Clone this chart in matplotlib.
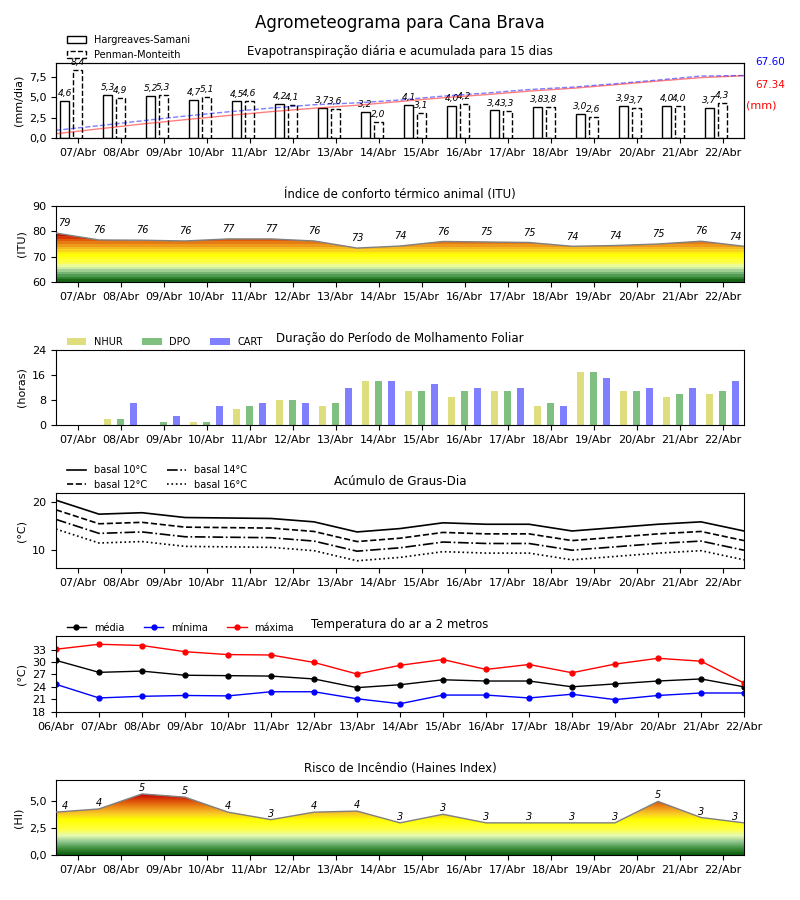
import numpy as np
import matplotlib
matplotlib.use('Agg')
import matplotlib.pyplot as plt
from matplotlib.colors import LinearSegmentedColormap
from matplotlib.patches import Polygon
from matplotlib.ticker import FuncFormatter

# ---------------- data ----------------
dates16 = ['07/Abr', '08/Abr', '09/Abr', '10/Abr', '11/Abr', '12/Abr', '13/Abr', '14/Abr',
           '15/Abr', '16/Abr', '17/Abr', '18/Abr', '19/Abr', '20/Abr', '21/Abr', '22/Abr']
dates17 = ['06/Abr'] + dates16

et_hs = [4.6, 5.3, 5.2, 4.7, 4.5, 4.2, 3.7, 3.2, 4.1, 4.0, 3.4, 3.8, 3.0, 3.9, 4.0, 3.7]
et_pm = [8.4, 4.9, 5.3, 5.1, 4.6, 4.1, 3.6, 2.0, 3.1, 4.2, 3.3, 3.8, 2.6, 3.7, 4.0, 4.3]
et_hs_acum = [4.6, 9.9, 15.1, 19.8, 24.3, 28.5, 32.2, 35.4, 39.5, 43.5, 46.9, 50.7, 53.7,
              57.6, 61.6, 65.3, 67.34]
et_pm_acum = [8.4, 13.3, 18.6, 23.7, 28.3, 32.4, 36.0, 38.0, 41.1, 45.3, 48.6, 52.4, 55.0,
              58.7, 62.7, 67.0, 67.60]
et_hs_total = '67.34'
et_pm_total = '67.60'

itu = [79.3, 76.6, 76.5, 76.2, 77.0, 77.0, 76.2, 73.4, 74.2, 76.0, 75.8, 75.6, 74.1, 74.4,
       75.0, 76.1, 74.1]
itu_labels = [79, 76, 76, 76, 77, 77, 76, 73, 74, 76, 75, 75, 74, 74, 75, 76, 74]

nhur = [0, 2, 0, 1, 5, 8, 6, 14, 11, 9, 11, 6, 17, 11, 9, 10]
dpo = [0, 2, 1, 1, 6, 8, 7, 14, 11, 11, 11, 7, 17, 11, 10, 11]
cart = [0, 7, 3, 6, 7, 7, 12, 14, 13, 12, 12, 6, 15, 12, 12, 14]

gd10 = [20.4, 17.5, 17.8, 16.8, 16.7, 16.6, 15.9, 13.8, 14.5, 15.7, 15.4, 15.4, 14.0, 14.7,
        15.4, 15.9, 14.0]
gd12 = [18.4, 15.5, 15.8, 14.8, 14.7, 14.6, 13.9, 11.8, 12.5, 13.7, 13.4, 13.4, 12.0, 12.7,
        13.4, 13.9, 12.0]
gd14 = [16.4, 13.5, 13.8, 12.8, 12.7, 12.6, 11.9, 9.8, 10.5, 11.7, 11.4, 11.4, 10.0, 10.7,
        11.4, 11.9, 10.0]
gd16 = [14.4, 11.5, 11.8, 10.8, 10.7, 10.6, 9.9, 7.8, 8.5, 9.7, 9.4, 9.4, 8.0, 8.7,
        9.4, 9.9, 8.0]

t_med = [30.4, 27.5, 27.8, 26.8, 26.7, 26.6, 25.9, 23.8, 24.5, 25.7, 25.4, 25.4, 24.0, 24.7,
         25.4, 25.9, 24.0]
t_min = [24.6, 21.3, 21.7, 21.9, 21.8, 22.8, 22.8, 21.1, 19.9, 22.0, 22.0, 21.3, 22.2, 20.9,
         21.9, 22.5, 22.5]
t_max = [33.1, 34.3, 34.0, 32.5, 31.8, 31.7, 29.9, 27.1, 29.2, 30.6, 28.2, 29.4, 27.4, 29.5,
         30.9, 30.2, 24.9]

haines = [4.0, 4.3, 5.7, 5.4, 4.0, 3.3, 4.0, 4.1, 3.0, 3.8, 3.0, 3.0, 3.0, 3.0, 5.0, 3.5, 3.0]
haines_labels = [4, 4, 5, 5, 4, 3, 4, 4, 3, 3, 3, 3, 3, 3, 5, 3, 3]

# ---------------- style ----------------
plt.rcParams['font.family'] = ['DejaVu Sans']
plt.rcParams['xtick.labelsize'] = 8
plt.rcParams['ytick.labelsize'] = 8
plt.rcParams['axes.labelsize'] = 8
TFS = 8.5

cmap = LinearSegmentedColormap.from_list('risk', [
    (0.00, '#0a5a0a'), (0.10, '#3d8f3d'), (0.20, '#8cc48c'), (0.30, '#e6fab4'),
    (0.40, '#ffff40'), (0.55, '#ffff00'), (0.65, '#f8c828'), (0.75, '#ec8c18'),
    (0.85, '#dc4c08'), (0.95, '#c40000'), (1.00, '#c00000')])

comma = FuncFormatter(lambda v, p: f'{v:.1f}'.replace('.', ','))

fig = plt.figure(figsize=(8, 9), dpi=100)
fig.suptitle('Agrometeograma para Cana Brava', y=0.985, fontsize=12)

L, W = 0.07, 0.86
def add_ax(top_px, bot_px):
    return fig.add_axes([L, (900 - bot_px) / 900, W, (bot_px - top_px) / 900])

x16 = np.arange(16)
x17h = np.arange(17) - 0.5
x17 = np.arange(17)


def gradient_fill(ax, x, y, ymin, ymax, vmin, vmax, step=None):
    yy = np.linspace(ymin, ymax, 1000)
    vals = yy if step is None else np.floor(yy / step) * step + step / 2
    im = ax.imshow(vals.reshape(-1, 1), extent=[x[0], x[-1], ymin, ymax], origin='lower',
                   aspect='auto', cmap=cmap, vmin=vmin, vmax=vmax,
                   interpolation='nearest', zorder=1)
    verts = [(x[0], ymin)] + list(zip(x, y)) + [(x[-1], ymin)]
    poly = Polygon(verts, closed=True, facecolor='none', edgecolor='none')
    ax.add_patch(poly)
    im.set_clip_path(poly)


def point_labels(ax, x, y, labels, dy):
    n = len(x)
    for i, (xi, yi, lab) in enumerate(zip(x, y, labels)):
        xx = xi + 0.2 if i == 0 else (xi - 0.2 if i == n - 1 else xi)
        ax.annotate(str(lab), (xx, yi), xytext=(0, dy), textcoords='offset points',
                    ha='center', va='center', fontsize=7, style='italic')

LEG = dict(loc='lower left', bbox_to_anchor=(0.01, 0.99), frameon=False, fontsize=7,
           borderaxespad=0)

# ---------------- panel 1: ET ----------------
ax1 = add_ax(63, 138)
ax1.bar(x16 - 0.3, et_hs, width=0.2, facecolor='white', edgecolor='black',
        linewidth=1, label='Hargreaves-Samani')
ax1.bar(x16, et_pm, width=0.2, facecolor='white', edgecolor='black',
        linewidth=1, linestyle='--', label='Penman-Monteith')
for xs, vals in ((x16 - 0.3, et_hs), (x16, et_pm)):
    for xi, v in zip(xs, vals):
        ax1.annotate(f'{v:.1f}'.replace('.', ','), (xi, v), xytext=(0, 5.3),
                     textcoords='offset points', ha='center', va='center',
                     fontsize=6.5, style='italic')
ax1.set_xlim(-0.5, 15.5)
ax1.set_ylim(0, max(et_pm) * 1.1)
ax1.set_yticks([0, 2.5, 5, 7.5])
ax1.yaxis.set_major_formatter(comma)
ax1.set_xticks(x16)
ax1.set_xticklabels(dates16)
ax1.set_ylabel('(mm/dia)')
ax1.set_title('Evapotranspiração diária e acumulada para 15 dias', fontsize=TFS, pad=6)
ax1.legend(**LEG)
ax1b = ax1.twinx()
ax1b.plot(x17h, et_hs_acum, color='red', alpha=0.5, lw=1)
ax1b.plot(x17h, et_pm_acum, color='blue', alpha=0.5, lw=1, ls='--')
ax1b.set_ylim(0, max(et_pm_acum) * 1.2)
ax1b.set_yticks([])
ax1b.set_xlim(-0.5, 15.5)
ax1.text(1.016, 1.013, et_pm_total, transform=ax1.transAxes, color='blue', fontsize=7.5,
         ha='left', va='center')
ax1.text(1.016, 0.707, et_hs_total, transform=ax1.transAxes, color='red', fontsize=7.5,
         ha='left', va='center')
ax1.text(1.003, 0.44, '(mm)', transform=ax1.transAxes, color='red', fontsize=8,
         ha='left', va='center')

# ---------------- panel 2: ITU ----------------
ax2 = add_ax(206, 282)
gradient_fill(ax2, x17h, itu, 60, 90, 60, 80, step=1)
ax2.plot(x17h, itu, color='#808080', lw=1.0, zorder=3)
point_labels(ax2, x17h, itu, itu_labels, 7)
ax2.set_xlim(-0.5, 15.5)
ax2.set_ylim(60, 90)
ax2.set_yticks([60, 70, 80, 90])
ax2.set_xticks(x16)
ax2.set_xticklabels(dates16)
ax2.set_ylabel('(ITU)')
ax2.set_title('Índice de conforto térmico animal (ITU)', fontsize=TFS, pad=6)

# ---------------- panel 3: molhamento ----------------
ax3 = add_ax(350, 425)
ax3.bar(x16 - 0.3, nhur, width=0.16, color='y', alpha=0.5, label='NHUR')
ax3.bar(x16, dpo, width=0.16, color='g', alpha=0.5, label='DPO')
ax3.bar(x16 + 0.3, cart, width=0.16, color='b', alpha=0.5, label='CART')
ax3.set_xlim(-0.5, 15.5)
ax3.set_ylim(0, 24)
ax3.set_yticks([0, 8, 16, 24])
ax3.set_xticks(x16)
ax3.set_xticklabels(dates16)
ax3.set_ylabel('(horas)')
ax3.set_title('Duração do Período de Molhamento Foliar', fontsize=TFS, pad=6)
ax3.legend(ncol=3, **LEG)

# ---------------- panel 4: graus-dia ----------------
ax4 = add_ax(493, 568)
ax4.plot(x17h, gd10, color='black', lw=1.2, ls='-', label='basal 10°C')
ax4.plot(x17h, gd12, color='black', lw=1.2, ls='--', label='basal 12°C')
ax4.plot(x17h, gd14, color='black', lw=1.2, ls='-.', label='basal 14°C')
ax4.plot(x17h, gd16, color='black', lw=1.2, ls=':', label='basal 16°C')
ax4.set_xlim(-0.5, 15.5)
ax4.set_ylim(min(gd16) - 1.5, max(gd10) + 1.5)
ax4.set_yticks([10, 20])
ax4.set_xticks(x16)
ax4.set_xticklabels(dates16)
ax4.set_ylabel('(°C)')
ax4.set_title('Acúmulo de Graus-Dia', fontsize=TFS, pad=6)
ax4.legend(ncol=2, **LEG)

# ---------------- panel 5: temperatura ----------------
ax5 = add_ax(636, 712)
ax5.plot(x17, t_med, color='black', lw=1, marker='o', ms=3.5, label='média')
ax5.plot(x17, t_min, color='blue', lw=1, marker='o', ms=3.5, label='mínima')
ax5.plot(x17, t_max, color='red', lw=1, marker='o', ms=3.5, label='máxima')
ax5.set_xlim(0, 16)
ax5.set_ylim(min(t_min) - 2, max(t_max) + 2)
ax5.set_yticks([18, 21, 24, 27, 30, 33])
ax5.set_xticks(x17)
ax5.set_xticklabels(dates17)
ax5.set_ylabel('(°C)')
ax5.set_title('Temperatura do ar a 2 metros', fontsize=TFS, pad=6)
ax5.legend(ncol=3, **LEG)

# ---------------- panel 6: Haines ----------------
ax6 = add_ax(780, 855)
gradient_fill(ax6, x17h, haines, 0, 7, 0, 6)
ax6.plot(x17h, haines, color='#808080', lw=1.0, zorder=3)
point_labels(ax6, x17h, haines, haines_labels, 4.3)
ax6.set_xlim(-0.5, 15.5)
ax6.set_ylim(0, 7)
ax6.set_yticks([0, 2.5, 5])
ax6.yaxis.set_major_formatter(comma)
ax6.set_xticks(x16)
ax6.set_xticklabels(dates16)
ax6.set_ylabel('(HI)')
ax6.set_title('Risco de Incêndio (Haines Index)', fontsize=TFS, pad=6)

fig.savefig('out.png', dpi=100)
